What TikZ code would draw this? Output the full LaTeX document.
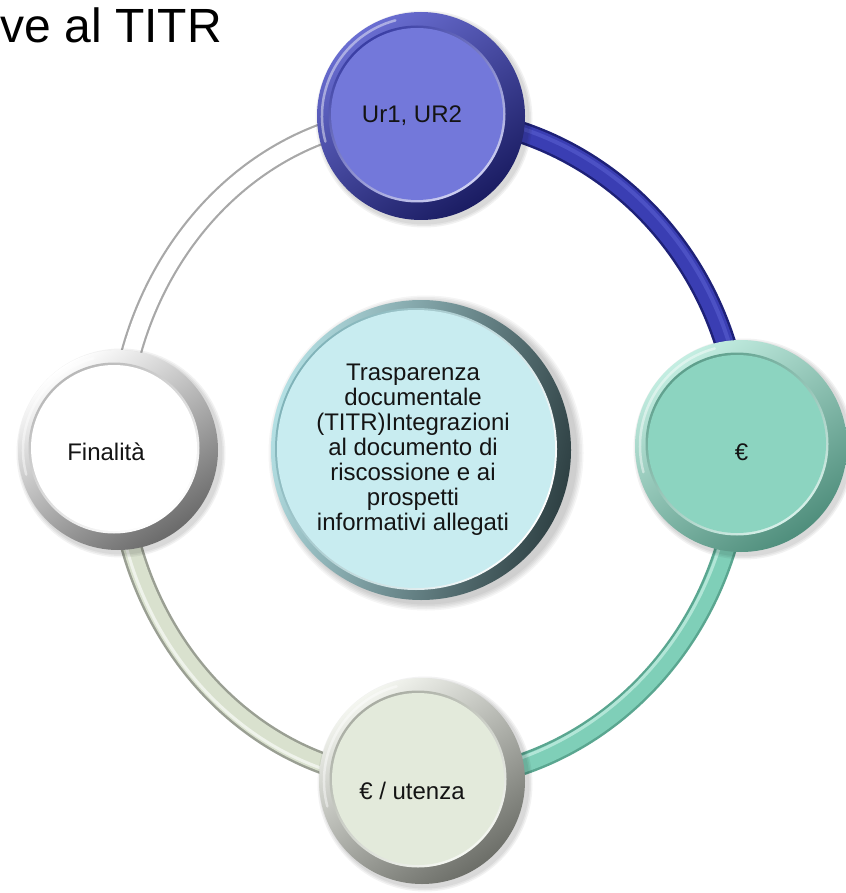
\documentclass[tikz,border=0pt]{standalone}
\usepackage{fontspec}
\setmainfont{Liberation Sans}
\usetikzlibrary{calc}

% palette
\definecolor{ink}{HTML}{141414}
\definecolor{blueEdge}{HTML}{1E2178}
\definecolor{blueFill}{HTML}{3A3EB3}
\definecolor{blueLite}{HTML}{4C51C4}
\definecolor{tealEdge}{HTML}{5AA690}
\definecolor{tealFill}{HTML}{7FCFB8}
\definecolor{tealLite}{HTML}{B2E6D7}
\definecolor{sageEdge}{HTML}{9A9F93}
\definecolor{sageFill}{HTML}{D9E1CE}
\definecolor{greyEdge}{HTML}{A8A8A8}
% disc colours: rim light, rim dark, face, bevel
\definecolor{bRimL}{HTML}{6A6ED2}\definecolor{bRimD}{HTML}{1A1C62}\definecolor{bFace}{HTML}{7378DA}\definecolor{bBev}{HTML}{3A3EA4}
\definecolor{tRimL}{HTML}{C4EEE2}\definecolor{tRimD}{HTML}{4F8E7C}\definecolor{tFace}{HTML}{8CD4C0}\definecolor{tBev}{HTML}{5E9F8C}
\definecolor{sRimL}{HTML}{F4F6F0}\definecolor{sRimD}{HTML}{6C6E68}\definecolor{sFace}{HTML}{E3EADB}\definecolor{sBev}{HTML}{A9ADA3}
\definecolor{wRimL}{HTML}{FFFFFF}\definecolor{wRimD}{HTML}{6A6A6A}\definecolor{wFace}{HTML}{FFFFFF}\definecolor{wBev}{HTML}{B8B8B8}
\definecolor{cRimL}{HTML}{B4E0E4}\definecolor{cRimD}{HTML}{2F4144}\definecolor{cFace}{HTML}{C8ECF0}\definecolor{cBev}{HTML}{7FB2B8}

% a glossy disc: centre, outer radius, face radius, rim light, rim dark, face, bevel dark, shading angle
\newcommand\glassdisc[8]{%
  \foreach \k in {1,2,3}{\fill[black,opacity=.05] ($(#1)+(3,3)$) circle ({#2+\k*1.5pt});}
  \shade[top color=#4, bottom color=#5, shading angle=#8] (#1) circle (#2);
  \draw[white, opacity=.45, line width=2.5pt, line cap=round]
    ($(#1)+(105:{#2-5pt})$) arc[start angle=105, end angle=195, radius={#2-5pt}];
  \shade[top color=#7, bottom color=#6!35!white, shading angle=#8] ($(#1)+(-4,-2)$) circle ({#3+2.5pt});
  \fill[#6] ($(#1)+(-4,-2)$) circle (#3);
}

\tikzset{
  bandline/.style 2 args={draw=#1, line width=2.5pt, double=#2, double distance=17pt},
  lbl/.style={font=\fontsize{24}{25}\selectfont, text=ink, inner sep=0pt, align=center},
}

\begin{document}
\begin{tikzpicture}[x=1pt, y=-1pt]
  \useasboundingbox (0,0) rectangle (845,893);
  \fill[white] (0,0) rectangle (845,893);

  % disc centres
  \coordinate (cTop)    at (421,116);
  \coordinate (cRight)  at (741,446);
  \coordinate (cBottom) at (422,781);
  \coordinate (cLeft)   at (118,450);
  \coordinate (cMid)    at (421,450);

  % ring segments between the discs
  \draw[bandline={blueEdge}{blueFill}] (cTop) to[out=0, in=90] (cRight);
  \draw[blueLite, line width=4pt, transform canvas={shift={(3,-3)}}] (cTop) to[out=0, in=90] (cRight);

  \draw[bandline={tealEdge}{tealFill}] (cRight) to[out=-90, in=0] (cBottom);
  \draw[tealLite, line width=3pt, transform canvas={shift={(-5,-5)}}] (cRight) to[out=-90, in=0] (cBottom);

  \draw[bandline={sageEdge}{sageFill}] (cBottom) to[out=180, in=-90] (cLeft);
  \draw[white, opacity=.6, line width=3pt, transform canvas={shift={(-4,4)}}] (cBottom) to[out=180, in=-90] (cLeft);

  \draw[draw=greyEdge, line width=2.2pt, double=white, double distance=17pt] (cLeft) to[out=90, in=180] (cTop);

  % discs
  \glassdisc{cTop}{104pt}{86pt}{bRimL}{bRimD}{bFace}{bBev}{35}
  \glassdisc{cRight}{106pt}{89pt}{tRimL}{tRimD}{tFace}{tBev}{35}
  \glassdisc{cBottom}{103pt}{86pt}{sRimL}{sRimD}{sFace}{sBev}{35}
  \glassdisc{cLeft}{100pt}{83pt}{wRimL}{wRimD}{wFace}{wBev}{35}

  % central disc with a heavier shadow on its right
  \foreach \k in {1,...,5}{\fill[black,opacity=.04] ($(cMid)+(5,3)$) circle ({150pt+\k*1.5pt});}
  \shade[top color=cRimL, bottom color=cRimD, shading angle=75] (cMid) circle (150pt);
  \shade[top color=cBev, bottom color=white, shading angle=60] ($(cMid)+(-5,-1)$) circle (141pt);
  \fill[cFace] ($(cMid)+(-5,-1)$) circle (139pt);

  % labels
  \node[anchor=base east, inner sep=0pt, font=\fontsize{48}{58}\selectfont, text=black] (title) at (222,43) {ve al TITR};
  \node[lbl] (ur)      at (412,116) {Ur1, UR2};
  \node[lbl] (euro)    at (741.5,452) {€};
  \node[lbl] (utenza)  at (412,791) {€ / utenza};
  \node[lbl] (fin)     at (106,452) {Finalità};
  \node[lbl] (centre)  at (413,450) {Trasparenza\\documentale\\(TITR)Integrazioni\\al documento di\\riscossione e ai\\prospetti\\informativi allegati};
\end{tikzpicture}
\end{document}
